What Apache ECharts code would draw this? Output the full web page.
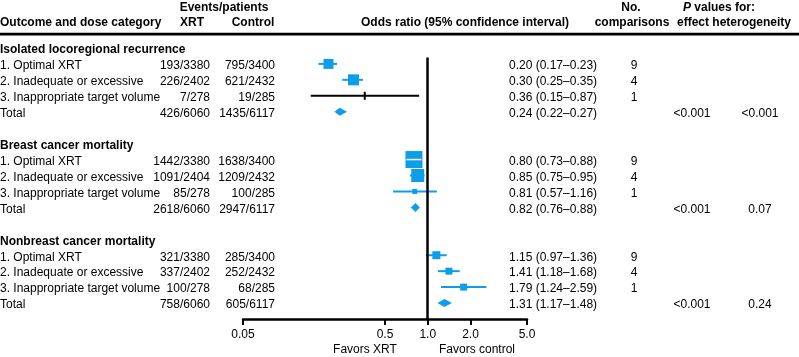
<!DOCTYPE html>
<html><head><meta charset="utf-8">
<script src="https://cdn.jsdelivr.net/npm/echarts@6/dist/echarts.min.js"></script>
<style>html,body{margin:0;padding:0;background:#fff}#c{width:799px;height:357px}</style>
</head><body><div id="c"></div>
<script>
// ---------- data ----------
const groups = ['Isolated locoregional recurrence', 'Breast cancer mortality', 'Nonbreast cancer mortality'];
const rowLabels = ['1. Optimal XRT', '2. Inadequate or excessive', '3. Inappropriate target volume', 'Total'];
const xrtEvents = [
  ['193/3380', '226/2402', '7/278', '426/6060'],
  ['1442/3380', '1091/2404', '85/278', '2618/6060'],
  ['321/3380', '337/2402', '100/278', '758/6060']
];
const controlEvents = [
  ['795/3400', '621/2432', '19/285', '1435/6117'],
  ['1638/3400', '1209/2432', '100/285', '2947/6117'],
  ['285/3400', '252/2432', '68/285', '605/6117']
];
const oddsRatio = [[0.20, 0.30, 0.36, 0.24], [0.80, 0.85, 0.81, 0.82], [1.15, 1.41, 1.79, 1.31]];
const ciLow    = [[0.17, 0.25, 0.15, 0.22], [0.73, 0.75, 0.57, 0.76], [0.97, 1.18, 1.24, 1.17]];
const ciHigh   = [[0.23, 0.35, 0.87, 0.27], [0.88, 0.95, 1.16, 0.88], [1.36, 1.68, 2.59, 1.48]];
const comparisons = [[9, 4, 1], [9, 4, 1], [9, 4, 1]];
const pTrend = ['<0.001', '<0.001', '<0.001'];
const pHeterogeneity = ['<0.001', '0.07', '0.24'];
const tickValues = [0.05, 0.5, 1, 2, 5];
const tickLabels = ['0.05', '0.5', '1.0', '2.0', '5.0'];

// ---------- styling (not data) ----------
const markerShape = [['square', 'square', 'tick', 'diamond'], ['square', 'square', 'square', 'diamond'], ['square', 'square', 'square', 'diamond']];
const markerSize = [[10, 11, 8, 8], [17, 13, 5, 9], [8, 7, 7, 8]];
const BLUE = '#0c9ee8';
const FONT = '"Liberation Sans", Arial, Helvetica, sans-serif';
const TY = 2; // text baseline nudge

const rowPos = (g, r) => g * 6 + 1 + r;   // slot index on the vertical value axis
const headPos = g => g * 6;

const seriesData = [];
groups.forEach((_, g) => {
  for (let r = 0; r < 4; r++) {
    seriesData.push([oddsRatio[g][r], ciLow[g][r], ciHigh[g][r], rowPos(g, r), g, r]);
  }
});

function renderItem(params, api) {
  const or = api.value(0), lo = api.value(1), hi = api.value(2), v = api.value(3);
  const g = api.value(4), r = api.value(5);
  const c = api.coord([or, v]), a = api.coord([lo, v]), b = api.coord([hi, v]);
  const y = c[1];
  const shape = markerShape[g][r];
  const s = markerSize[g][r];
  const ch = [];
  if (shape === 'diamond') {
    ch.push({ type: 'polygon', shape: { points: [[a[0], y], [c[0], y - s / 2], [b[0], y], [c[0], y + s / 2]] }, style: { fill: BLUE } });
  } else if (shape === 'tick') {
    ch.push({ type: 'line', shape: { x1: a[0], y1: y, x2: b[0], y2: y }, style: { stroke: '#000', lineWidth: 2 } });
    ch.push({ type: 'rect', shape: { x: c[0] - 1, y: y - s / 2, width: 2, height: s }, style: { fill: '#000' } });
  } else {
    ch.push({ type: 'line', shape: { x1: a[0], y1: y, x2: b[0], y2: y }, style: { stroke: BLUE, lineWidth: 2 } });
    ch.push({ type: 'rect', shape: { x: c[0] - s / 2, y: y - s / 2, width: s, height: s }, style: { fill: BLUE } });
    if (a[0] > c[0] - s / 2 && b[0] < c[0] + s / 2) {
      ch.push({ type: 'line', shape: { x1: c[0] - s / 2 + 1, y1: y, x2: c[0] + s / 2 - 1, y2: y }, style: { stroke: '#fff', lineWidth: 1.5 } });
    }
  }
  return { type: 'group', children: ch };
}

const chart = echarts.init(document.getElementById('c'), null, { renderer: 'canvas' });
chart.setOption({
  animation: false,
  backgroundColor: '#fff',
  grid: { left: 243, width: 284, top: 32, height: 287, containLabel: false },
  xAxis: {
    type: 'log', logBase: 10, min: 0.05, max: 5,
    axisLine: { onZero: false, lineStyle: { color: '#000', width: 2.5 } },
    axisTick: { show: true, customValues: tickValues, length: 6, lineStyle: { color: '#000', width: 2 } },
    axisLabel: {
      customValues: tickValues, margin: 10, fontSize: 12, color: '#000', fontFamily: FONT,
      formatter: v => { let best = 0; tickValues.forEach((t, i) => { if (Math.abs(Math.log(t / v)) < Math.abs(Math.log(tickValues[best] / v))) best = i; }); return tickLabels[best]; }
    },
    splitLine: { show: false }, minorTick: { show: false }
  },
  yAxis: { type: 'value', inverse: true, min: -1, max: 17, show: false, axisLine: { onZero: false } },
  series: [{
    type: 'custom', renderItem: renderItem, data: seriesData, clip: false,
    encode: { x: [0, 1, 2], y: 3 },
    markLine: {
      silent: true, symbol: ['none', 'none'], label: { show: false },
      lineStyle: { color: '#000', width: 2.5, type: 'solid' },
      data: [[{ coord: [1, 0.6] }, { coord: [1, 17] }]]
    }
  }]
});

// ---------- table text ----------
const yPix = v => chart.convertToPixel({ yAxisIndex: 0 }, v);
const txt = (text, x, y, align, bold, extra) => Object.assign({
  type: 'text', x: x, y: y + TY, silent: true,
  style: Object.assign({ text: text, fill: '#000', fontSize: 12, fontFamily: FONT, fontWeight: bold ? 'bold' : 'normal', align: align, verticalAlign: 'middle' }, extra || {})
});
const els = [];
// header
els.push(txt('Events/patients', 224, 5.5, 'center', true));
els.push(txt('Outcome and dose category', 0, 20.5, 'left', true));
els.push(txt('XRT', 192, 20.5, 'center', true));
els.push(txt('Control', 253, 20.5, 'center', true));
els.push(txt('Odds ratio (95% confidence interval)', 465, 20.5, 'center', true));
els.push(txt('No.', 631, 5.5, 'center', true));
els.push(txt('comparisons', 632, 20.5, 'center', true));
els.push(txt('{i|P} values for:', 719, 5.5, 'center', true, { rich: { i: { fontStyle: 'italic', fontWeight: 'bold', fontSize: 12, fontFamily: FONT } } }));
els.push(txt('effect heterogeneity', 734, 20.5, 'center', true));
els.push({ type: 'rect', silent: true, shape: { x: 0, y: 32.8, width: 799, height: 2.6 }, style: { fill: '#000' } });

groups.forEach((name, g) => {
  els.push(txt(name, 0, yPix(headPos(g)), 'left', true));
  for (let r = 0; r < 4; r++) {
    const y = yPix(rowPos(g, r));
    els.push(txt(rowLabels[r], 0, y, 'left', false));
    els.push(txt(xrtEvents[g][r], 210, y, 'right', false));
    els.push(txt(controlEvents[g][r], 275, y, 'right', false));
    els.push(txt(oddsRatio[g][r].toFixed(2) + ' (' + ciLow[g][r].toFixed(2) + '\u2013' + ciHigh[g][r].toFixed(2) + ')', 509, y, 'left', false));
    if (r < 3) els.push(txt(String(comparisons[g][r]), 634, y, 'center', false));
    else {
      els.push(txt(pTrend[g], 692, y, 'center', false));
      els.push(txt(pHeterogeneity[g], 760, y, 'center', false));
    }
  }
});
els.push(txt('Favors XRT', 365, 348, 'center', false));
els.push(txt('Favors control', 477, 348, 'center', false));
chart.setOption({ graphic: { elements: els } });
</script>
</body></html>
